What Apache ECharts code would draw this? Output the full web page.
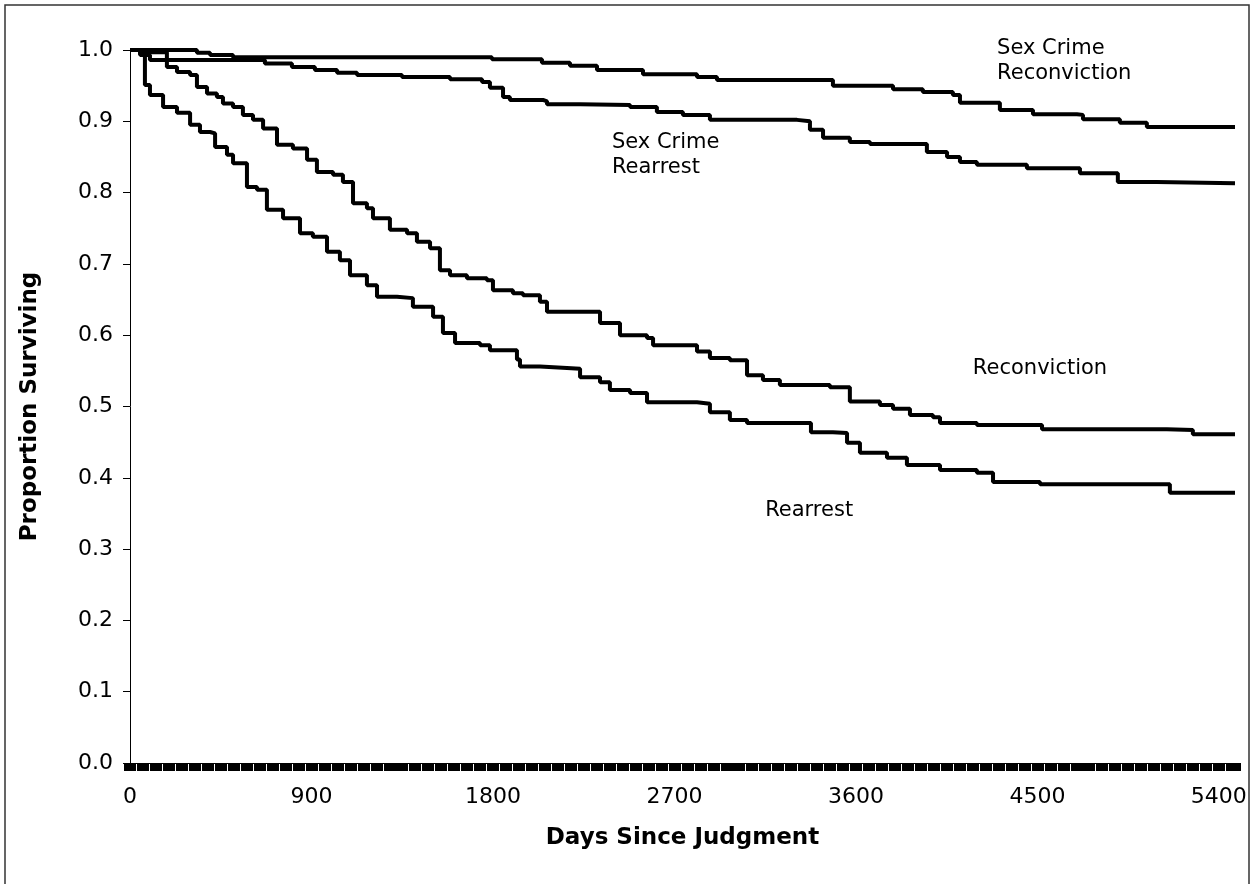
<!DOCTYPE html>
<html lang="en">
<head>
    <meta charset="UTF-8">
    <title>Survival</title>
    <style>
        *{margin: 0; padding: 0;}
        body,html{width: 100%; height: 100%; background: #fff; overflow: hidden;}
        #chart{width: 1255px; height: 884px;}
    </style>
</head>
<body>
<div id="chart"></div>
<script src="https://cdn.jsdelivr.net/npm/echarts@6/dist/echarts.min.js"></script>
<script>
// days since judgment / proportion surviving
var rearrestDays = [0, 50, 74, 99, 164, 233, 298, 347, 397, 422, 481, 511, 580, 630, 679, 759, 843, 907, 977, 1041, 1091, 1175, 1225, 1324, 1403, 1503, 1552, 1612, 1736, 1785, 1919, 1934, 2033, 2167, 2232, 2331, 2380, 2480, 2564, 2812, 2876, 2975, 3060, 3362, 3377, 3486, 3556, 3620, 3754, 3853, 4017, 4200, 4280, 4513, 5093, 5157, 5480];
var rearrestSurv = [1.0, 0.995, 0.951, 0.937, 0.92, 0.912, 0.895, 0.885, 0.883, 0.864, 0.853, 0.841, 0.808, 0.804, 0.776, 0.764, 0.743, 0.738, 0.717, 0.705, 0.684, 0.670, 0.654, 0.652, 0.640, 0.626, 0.603, 0.589, 0.586, 0.579, 0.566, 0.556, 0.554, 0.553, 0.541, 0.534, 0.523, 0.519, 0.506, 0.504, 0.492, 0.481, 0.477, 0.477, 0.464, 0.463, 0.449, 0.435, 0.428, 0.418, 0.411, 0.407, 0.394, 0.391, 0.391, 0.379, 0.379];

var reconvDays = [0, 64, 183, 233, 298, 332, 382, 431, 461, 511, 560, 610, 660, 729, 808, 878, 927, 1007, 1056, 1106, 1175, 1205, 1289, 1374, 1423, 1488, 1537, 1587, 1671, 1770, 1800, 1899, 1949, 2033, 2068, 2266, 2331, 2430, 2564, 2594, 2812, 2876, 2975, 3060, 3139, 3223, 3471, 3570, 3719, 3784, 3868, 3982, 4017, 4200, 4523, 5142, 5271, 5480];
var reconvSurv = [1.0, 0.997, 0.976, 0.969, 0.965, 0.948, 0.939, 0.934, 0.925, 0.920, 0.909, 0.902, 0.890, 0.867, 0.862, 0.846, 0.829, 0.825, 0.815, 0.785, 0.778, 0.764, 0.748, 0.743, 0.731, 0.722, 0.691, 0.684, 0.680, 0.677, 0.663, 0.659, 0.656, 0.647, 0.633, 0.633, 0.617, 0.600, 0.596, 0.586, 0.577, 0.568, 0.565, 0.544, 0.537, 0.530, 0.527, 0.507, 0.502, 0.497, 0.488, 0.485, 0.477, 0.474, 0.468, 0.467, 0.461, 0.461];

var sexRearrestDays = [0, 50, 99, 496, 669, 803, 917, 1027, 1126, 1349, 1587, 1746, 1785, 1850, 1884, 2048, 2068, 2232, 2480, 2613, 2742, 2876, 3308, 3372, 3437, 3570, 3670, 3952, 4052, 4116, 4200, 4448, 4711, 4899, 5093, 5480];
var sexRearrestSurv = [1.0, 0.993, 0.986, 0.986, 0.981, 0.976, 0.972, 0.968, 0.965, 0.962, 0.959, 0.955, 0.947, 0.934, 0.930, 0.928, 0.924, 0.923, 0.920, 0.913, 0.909, 0.902, 0.900, 0.888, 0.877, 0.871, 0.868, 0.857, 0.850, 0.843, 0.839, 0.834, 0.827, 0.815, 0.813, 0.813];

var sexReconvDays = [0, 312, 332, 397, 511, 1775, 1795, 2033, 2043, 2182, 2316, 2544, 2812, 2911, 3422, 3486, 3670, 3784, 3932, 4081, 4116, 4314, 4478, 4696, 4726, 4909, 5043, 5480];
var sexReconvSurv = [1.0, 1.0, 0.996, 0.993, 0.990, 0.990, 0.987, 0.987, 0.982, 0.978, 0.972, 0.966, 0.962, 0.958, 0.958, 0.950, 0.950, 0.945, 0.941, 0.937, 0.926, 0.916, 0.910, 0.909, 0.903, 0.898, 0.892, 0.892];

var xTicks = [0, 900, 1800, 2700, 3600, 4500, 5400];

// curve labels: text, anchor day, anchor value (top-left of the text)
var curveLabels = [
    {text: 'Sex Crime\nReconviction', day: 4300, val: 1.019},
    {text: 'Sex Crime\nRearrest', day: 2390, val: 0.888},
    {text: 'Reconviction', day: 4180, val: 0.571},
    {text: 'Rearrest', day: 3150, val: 0.372}
];

function zip(a, b) {
    var out = [];
    for (var i = 0; i < a.length; i++) out.push([a[i], b[i]]);
    return out;
}

function line(name, days, surv) {
    return {
        name: name,
        type: 'line',
        step: 'end',
        symbol: 'none',
        lineStyle: {color: '#000', width: 4},
        data: zip(days, surv)
    };
}

var font = 'DejaVu Sans';
var myChart = echarts.init(document.getElementById('chart'));
var option = {
    animation: false,
    backgroundColor: '#fff',
    grid: {left: 130, right: 20, top: 50, bottom: 121},
    xAxis: {
        type: 'value',
        min: 0,
        max: 5480,
        interval: 900,
        name: 'Days Since Judgment',
        nameLocation: 'middle',
        nameGap: 64,
        nameTextStyle: {fontFamily: font, fontSize: 23, fontWeight: 'bold', color: '#000'},
        axisLine: {lineStyle: {color: '#000', width: 1}},
        axisTick: {show: true, length: 8, lineStyle: {color: '#000', width: 12}},
        minorTick: {show: true, splitNumber: 14, length: 8, lineStyle: {color: '#000', width: 12}},
        axisLabel: {
            fontFamily: font, fontSize: 22, color: '#000', margin: 23,
            formatter: function (v) { return xTicks.indexOf(v) >= 0 ? String(v) : ''; }
        },
        splitLine: {show: false}
    },
    yAxis: {
        type: 'value',
        min: 0,
        max: 1,
        interval: 0.1,
        name: 'Proportion Surviving',
        nameLocation: 'middle',
        nameGap: 88,
        nameTextStyle: {fontFamily: font, fontSize: 23, fontWeight: 'bold', color: '#000'},
        axisLine: {show: true, lineStyle: {color: '#000', width: 1}},
        axisTick: {show: true, length: 7, lineStyle: {color: '#000'}},
        axisLabel: {
            fontFamily: font, fontSize: 22, color: '#000', margin: 17,
            formatter: function (v) { return v.toFixed(1); }
        },
        splitLine: {show: false}
    },
    series: [
        line('Sex Crime Reconviction', sexReconvDays, sexReconvSurv),
        line('Sex Crime Rearrest', sexRearrestDays, sexRearrestSurv),
        line('Reconviction', reconvDays, reconvSurv),
        line('Rearrest', rearrestDays, rearrestSurv)
    ]
};
myChart.setOption(option);

var g = [{
    type: 'rect',
    shape: {x: 5, y: 5, width: 1244, height: 900},
    style: {fill: 'none', stroke: '#333', lineWidth: 1.5},
    silent: true
}];
curveLabels.forEach(function (l) {
    var p = myChart.convertToPixel({gridIndex: 0}, [l.day, l.val]);
    g.push({
        type: 'text',
        x: p[0],
        y: p[1],
        style: {text: l.text, fontFamily: font, fontSize: 21, lineHeight: 25, fill: '#000'}
    });
});
myChart.setOption({graphic: g});
</script>
</body>
</html>
